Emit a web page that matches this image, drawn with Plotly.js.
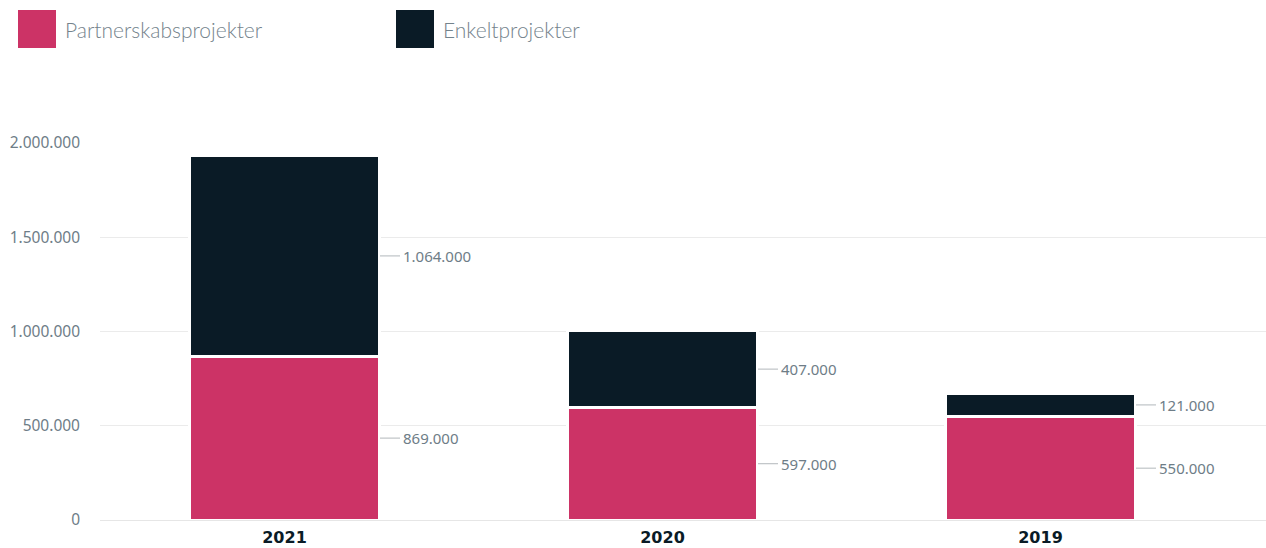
<!DOCTYPE html>
<html>
<head>
<meta charset="utf-8">
<script src="https://cdn.plot.ly/plotly-3.0.1.min.js"></script>
<style>html,body{margin:0;padding:0;background:#fff;}#chart{width:1266px;height:548px;}</style>
</head>
<body>
<div id="chart"></div>
<script>
const categories = ['2021', '2020', '2019'];
const partnerskab = [869000, 597000, 550000];
const enkelt = [1064000, 407000, 121000];
const seriesNames = ['Partnerskabsprojekter', 'Enkeltprojekter'];
const yTicks = [0, 500000, 1000000, 1500000, 2000000];

const PINK = '#CC3366';
const DARK = '#0A1B26';
const GRAY = '#6E7D87';

const W = 1266, H = 548;
const ML = 100, MR = 0, MT = 143, MB = 28;
const PW = W - ML - MR;
const unitPx = 378;
const xr0 = -0.5 + (ML - 95.5) / unitPx;
const xr1 = xr0 + PW / unitPx;
const barWidth = 190 / unitPx;
const half = barWidth / 2;

const traces = [
  {type: 'bar', name: seriesNames[0], x: categories, y: partnerskab,
   width: barWidth, marker: {color: PINK, line: {color: '#ffffff', width: 3}}, hoverinfo: 'none'},
  {type: 'bar', name: seriesNames[1], x: categories, y: enkelt,
   width: barWidth, marker: {color: DARK, line: {color: '#ffffff', width: 3}}, hoverinfo: 'none'}
];

const shapes = [];
const annotations = [];
function fmt(v){ return v.toString().replace(/\B(?=(\d{3})+(?!\d))/g, '.'); }

categories.forEach((c, i) => {
  const segs = [
    {mid: partnerskab[i] / 2, v: partnerskab[i]},
    {mid: partnerskab[i] + enkelt[i] / 2, v: enkelt[i]}
  ];
  segs.forEach(s => {
    shapes.push({type: 'line', xref: 'x', yref: 'y',
      x0: i + half + 1 / unitPx, x1: i + half + 21 / unitPx, y0: s.mid, y1: s.mid,
      line: {color: '#3f4d56', width: 0.8, dash: '1px,1px'}});
    annotations.push({xref: 'x', yref: 'y', x: i + half + 21 / unitPx, y: s.mid,
      xanchor: 'left', yanchor: 'middle', showarrow: false, text: fmt(s.v),
      font: {family: 'Noto Sans, sans-serif', size: 15, color: GRAY}});
  });
});

// custom legend
function px2x(px){ return (px - ML) / PW; }
function py2y(py){ return 1 - (py - MT) / (H - MT - MB); }
const legendItems = [
  {x: 18, color: PINK, text: seriesNames[0]},
  {x: 396, color: DARK, text: seriesNames[1]}
];
legendItems.forEach(l => {
  shapes.push({type: 'rect', xref: 'paper', yref: 'paper',
    x0: px2x(l.x), x1: px2x(l.x + 38), y0: py2y(48), y1: py2y(10),
    fillcolor: l.color, line: {width: 0}});
  annotations.push({xref: 'paper', yref: 'paper', x: px2x(l.x + 45), y: py2y(29),
    xanchor: 'left', yanchor: 'middle', showarrow: false, text: l.text,
    font: {family: 'Lato, sans-serif', size: 21, color: '#74838C', weight: 300}});
});

const layout = {
  width: W, height: H,
  margin: {l: ML, r: MR, t: MT, b: MB, pad: 0},
  barmode: 'stack',
  showlegend: false,
  separators: ',.',
  paper_bgcolor: '#ffffff', plot_bgcolor: '#ffffff',
  xaxis: {type: 'category', range: [xr0, xr1], showgrid: false, zeroline: false,
    showline: false, ticks: '', fixedrange: true, ticklabelstandoff: 6,
    tickfont: {family: 'DejaVu Sans, sans-serif', size: 16, color: DARK, weight: 'bold'}},
  yaxis: {range: [0, 2000000], tickvals: yTicks, ticktext: yTicks.map(fmt),
    showgrid: true, gridcolor: '#EBEBEB', gridwidth: 1, zeroline: true, zerolinecolor: '#E6E6E6',
    showline: false, ticks: '', ticklabelstandoff: 19,
    tickfont: {family: 'Noto Sans, sans-serif', size: 15.5, color: GRAY}},
  shapes: shapes,
  annotations: annotations
};

Plotly.newPlot('chart', traces, layout, {displayModeBar: false, staticPlot: true});
</script>
</body>
</html>
